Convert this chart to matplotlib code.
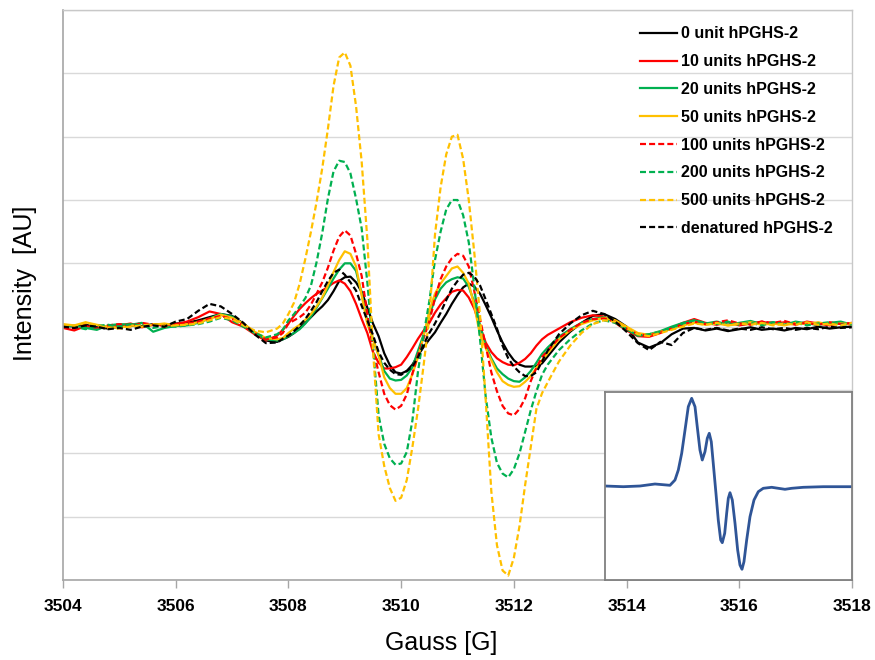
import matplotlib
matplotlib.use("Agg")
import matplotlib.pyplot as plt

plt.rcParams['font.family'] = ['Liberation Sans', 'DejaVu Sans']

# ---------------- data ----------------
gauss = [3504.0, 3504.2, 3504.4, 3504.6, 3504.8, 3505.0, 3505.2, 3505.4, 3505.6, 3505.8,
         3506.0, 3506.2, 3506.4, 3506.6, 3506.8, 3507.0, 3507.2, 3507.4, 3507.6, 3507.8,
         3507.9, 3508.0, 3508.1, 3508.2, 3508.3, 3508.4, 3508.5, 3508.6, 3508.7, 3508.8,
         3508.9, 3509.0, 3509.1, 3509.2, 3509.3, 3509.4, 3509.5, 3509.6, 3509.7, 3509.8,
         3509.9, 3510.0, 3510.1, 3510.2, 3510.3, 3510.4, 3510.5, 3510.6, 3510.7, 3510.8,
         3510.9, 3511.0, 3511.1, 3511.2, 3511.3, 3511.4, 3511.5, 3511.6, 3511.7, 3511.8,
         3511.9, 3512.0, 3512.1, 3512.2, 3512.3, 3512.4, 3512.5, 3512.6,
         3512.8, 3513.0, 3513.2, 3513.4, 3513.6, 3513.8, 3514.0, 3514.2, 3514.4, 3514.6,
         3514.8, 3515.0, 3515.2, 3515.4, 3515.6, 3515.8, 3516.0, 3516.2, 3516.4, 3516.6,
         3516.8, 3517.0, 3517.2, 3517.4, 3517.6, 3517.8, 3518.0]

unit_0 = [0.02, 0.0, 0.03, -0.01, -0.03, 0.0, 0.02, 0.01, 0.04, 0.03,
          0.05, 0.06, 0.1, 0.15, 0.2, 0.17, 0.05, -0.1, -0.22, -0.24,
          -0.2, -0.16, -0.1, -0.02, 0.06, 0.15, 0.24, 0.32, 0.42, 0.56,
          0.72, 0.78, 0.79, 0.7, 0.55, 0.3, 0.05, -0.15, -0.42, -0.61,
          -0.72, -0.74, -0.7, -0.6, -0.45, -0.32, -0.2, -0.09, 0.06, 0.2,
          0.36, 0.5, 0.62, 0.68, 0.63, 0.52, 0.34, 0.15, -0.06, -0.25,
          -0.41, -0.53, -0.6, -0.63, -0.63, -0.62, -0.58, -0.47,
          -0.25, -0.08, 0.06, 0.17, 0.2, 0.12, 0.0, -0.25, -0.33, -0.26,
          -0.12, -0.03, -0.02, -0.06, -0.03, -0.07, -0.04, -0.01, -0.05, -0.03,
          -0.06, -0.02, -0.04, 0.0, -0.03, -0.01, 0.0]

unit_10 = [-0.02, -0.06, 0.01, -0.03, 0.0, 0.02, 0.05, -0.01, 0.03, 0.02,
           0.04, 0.08, 0.15, 0.24, 0.2, 0.07, 0.0, -0.12, -0.22, -0.14,
           -0.05, 0.05, 0.17, 0.28, 0.37, 0.45, 0.52, 0.57, 0.63, 0.69,
           0.73, 0.68, 0.56, 0.36, 0.12, -0.1, -0.4, -0.57, -0.66, -0.66,
           -0.64, -0.6, -0.48, -0.34, -0.19, -0.06, 0.06, 0.22, 0.35, 0.45,
           0.55, 0.58, 0.57, 0.46, 0.28, 0.0, -0.25, -0.4, -0.5, -0.56,
           -0.6, -0.61, -0.57, -0.51, -0.42, -0.3, -0.2, -0.13,
           -0.03, 0.07, 0.14, 0.18, 0.16, 0.06, -0.06, -0.15, -0.16, -0.1,
           -0.02, 0.06, 0.12, 0.06, 0.03, 0.07, 0.02, 0.05, 0.08, 0.04,
           0.07, 0.03, 0.08, 0.05, 0.02, 0.06, 0.03]

unit_20 = [-0.01, 0.02, -0.02, -0.05, 0.02, 0.04, 0.03, 0.06, -0.08, -0.02,
           0.01, 0.02, 0.06, 0.13, 0.2, 0.16, 0.04, -0.1, -0.2, -0.22,
           -0.2, -0.15, -0.1, -0.04, 0.05, 0.16, 0.3, 0.45, 0.6, 0.76,
           0.9, 1.0, 1.0, 0.88, 0.52, 0.08, -0.2, -0.45, -0.7, -0.82,
           -0.85, -0.84, -0.77, -0.64, -0.38, -0.12, 0.18, 0.43, 0.6, 0.7,
           0.75, 0.78, 0.76, 0.63, 0.38, 0.02, -0.3, -0.5, -0.66, -0.75,
           -0.82, -0.86, -0.87, -0.8, -0.7, -0.57, -0.43, -0.33,
           -0.16, -0.04, 0.06, 0.12, 0.15, 0.08, -0.04, -0.14, -0.12, -0.07,
           0.0, 0.06, 0.1, 0.05, 0.08, 0.03, 0.06, 0.09, 0.04, 0.07,
           0.03, 0.08, 0.05, 0.03, 0.06, 0.08, 0.03]

unit_50 = [0.04, 0.02, 0.07, 0.03, 0.0, -0.02, 0.02, 0.0, 0.03, 0.05,
           0.02, 0.04, 0.07, 0.12, 0.19, 0.14, 0.05, -0.08, -0.18, -0.2,
           -0.18, -0.1, -0.03, 0.03, 0.11, 0.2, 0.32, 0.46, 0.65, 0.86,
           1.05, 1.19, 1.15, 0.95, 0.49, 0.04, -0.2, -0.45, -0.8, -0.97,
           -1.06, -1.06, -0.97, -0.75, -0.48, -0.15, 0.25, 0.52, 0.68, 0.8,
           0.92, 0.95, 0.85, 0.68, 0.32, -0.13, -0.34, -0.53, -0.72, -0.86,
           -0.92, -0.95, -0.94, -0.87, -0.78, -0.65, -0.53, -0.42,
           -0.2, -0.06, 0.04, 0.1, 0.14, 0.1, 0.0, -0.1, -0.13, -0.08,
           -0.04, 0.02, 0.06, 0.03, 0.05, 0.02, 0.04, 0.07, 0.03, 0.05,
           0.02, 0.06, 0.04, 0.07, 0.03, 0.05, 0.04]

unit_100 = [0.0, -0.03, 0.03, -0.02, 0.02, 0.04, 0.01, 0.06, 0.03, 0.0,
            0.03, 0.05, 0.08, 0.13, 0.17, 0.12, 0.02, -0.1, -0.2, -0.17,
            -0.1, 0.05, 0.1, 0.15, 0.22, 0.35, 0.52, 0.7, 0.93, 1.2,
            1.42, 1.52, 1.44, 1.15, 0.8, 0.2, -0.35, -0.72, -1.06, -1.24,
            -1.31, -1.25, -1.07, -0.74, -0.44, -0.18, 0.08, 0.45, 0.75, 0.95,
            1.08, 1.15, 1.12, 0.95, 0.55, 0.12, -0.3, -0.72, -1.02, -1.25,
            -1.37, -1.4, -1.3, -1.13, -0.86, -0.65, -0.48, -0.38,
            -0.18, -0.05, 0.06, 0.12, 0.13, 0.08, -0.03, -0.12, -0.14, -0.09,
            -0.03, 0.04, 0.08, 0.04, 0.07, 0.1, 0.05, 0.03, 0.08, 0.06,
            0.09, 0.04, 0.06, 0.03, 0.07, 0.04, 0.06]

unit_200 = [0.02, 0.0, -0.04, 0.01, 0.03, 0.0, 0.04, 0.02, -0.02, 0.01,
            0.0, 0.02, 0.04, 0.08, 0.14, 0.1, 0.0, -0.1, -0.17, -0.12,
            -0.05, 0.1, 0.2, 0.32, 0.45, 0.65, 1.02, 1.48, 2.02, 2.45,
            2.62, 2.6, 2.42, 2.02, 1.55, 0.7, -0.3, -1.4, -1.85, -2.08,
            -2.18, -2.16, -1.98, -1.48, -0.7, -0.12, 0.4, 1.05, 1.5, 1.85,
            2.0, 2.0, 1.76, 1.33, 0.62, -0.2, -1.1, -1.75, -2.15, -2.32,
            -2.38, -2.25, -2.0, -1.66, -1.32, -1.02, -0.76, -0.6,
            -0.37, -0.2, -0.06, 0.05, 0.1, 0.06, -0.04, -0.14, -0.12, -0.08,
            -0.02, 0.05, 0.1, 0.06, 0.04, 0.08, 0.03, 0.06, 0.02, 0.07,
            0.04, 0.06, 0.02, 0.05, 0.07, 0.03, 0.04]

unit_500 = [0.03, 0.01, 0.06, 0.02, -0.02, -0.03, 0.0, 0.02, 0.04, 0.01,
            0.02, 0.03, 0.05, 0.1, 0.15, 0.12, 0.02, -0.06, -0.09, -0.03,
            0.05, 0.2, 0.38, 0.68, 1.07, 1.5, 1.97, 2.5, 3.12, 3.8,
            4.25, 4.33, 4.12, 3.48, 2.6, 1.38, -0.36, -1.7, -2.2, -2.55,
            -2.75, -2.7, -2.42, -1.9, -1.3, -0.6, 0.15, 1.45, 2.2, 2.72,
            3.0, 3.03, 2.65, 2.0, 1.15, 0.18, -1.15, -2.6, -3.45, -3.85,
            -3.93, -3.65, -3.15, -2.5, -1.9, -1.3, -1.05, -0.88,
            -0.55, -0.3, -0.1, 0.04, 0.1, 0.08, -0.02, -0.12, -0.15, -0.1,
            -0.05, 0.0, 0.05, 0.03, 0.06, 0.02, 0.05, 0.03, 0.06, 0.02,
            0.05, 0.03, 0.07, 0.03, 0.05, 0.02, 0.06]

denatured = [0.0, -0.02, 0.02, 0.0, -0.04, -0.02, -0.05, 0.0, 0.02, 0.0,
             0.08, 0.12, 0.25, 0.36, 0.32, 0.2, 0.06, -0.12, -0.26, -0.25,
             -0.19, -0.14, -0.07, 0.02, 0.12, 0.25, 0.39, 0.56, 0.72, 0.85,
             0.9, 0.82, 0.7, 0.57, 0.33, 0.1, -0.13, -0.4, -0.57, -0.68,
             -0.75, -0.76, -0.7, -0.63, -0.48, -0.28, -0.1, 0.05, 0.22, 0.42,
             0.6, 0.72, 0.82, 0.85, 0.79, 0.65, 0.43, 0.2, -0.03, -0.3,
             -0.5, -0.63, -0.72, -0.78, -0.78, -0.72, -0.55, -0.38,
             -0.12, 0.05, 0.18, 0.25, 0.2, 0.08, -0.08, -0.26, -0.37, -0.24,
             -0.29, -0.1, -0.02, -0.05, -0.02, -0.06, -0.03, -0.05, -0.01, -0.04,
             -0.02, -0.05, -0.02, -0.04, 0.0, -0.02, -0.01]

labels = ["0 unit hPGHS-2", "10 units hPGHS-2", "20 units hPGHS-2", "50 units hPGHS-2",
          "100 units hPGHS-2", "200 units hPGHS-2", "500 units hPGHS-2", "denatured hPGHS-2"]

# inset spectrum (reference spectrum, arbitrary units)
inset_x = [3513.617, 3513.942, 3514.238, 3514.504, 3514.770, 3514.859, 3514.918, 3514.978,
           3515.037, 3515.095, 3515.155, 3515.214, 3515.254, 3515.302, 3515.343, 3515.391,
           3515.432, 3515.467, 3515.503, 3515.538, 3515.586, 3515.627, 3515.670, 3515.698,
           3515.741, 3515.776, 3515.805, 3515.835, 3515.876, 3515.924, 3515.971, 3516.012,
           3516.048, 3516.083, 3516.131, 3516.190, 3516.261, 3516.337, 3516.425, 3516.575,
           3516.692, 3516.811, 3516.929, 3517.135, 3517.490, 3518.0]
inset_y = [1, 0.3, 1, 3, 1.7, 7, 17, 33.7,
           57, 80.3, 88.7, 80.3, 60.3, 37, 27, 35.3,
           48.7, 53.7, 45.3, 23.7, -6.3, -33, -53, -55.7,
           -46.3, -26.3, -11.3, -5.7, -13, -36.3, -63, -78,
           -82.3, -74.7, -53, -29.7, -13, -4.7, -1.3, -0.3,
           -1.3, -2.3, -1.3, -0.3, 0.3, 0.3]

# ---------------- styling ----------------
series = [unit_0, unit_10, unit_20, unit_50, unit_100, unit_200, unit_500, denatured]
colors = ["#000000", "#FF0000", "#00B050", "#FFC000",
          "#FF0000", "#00B050", "#FFC000", "#000000"]
dashed = [False, False, False, False, True, True, True, True]

W, H = 875, 660
fig = plt.figure(figsize=(W / 100, H / 100), dpi=100)
ax = fig.add_axes([63 / W, 80 / H, 789 / W, 570 / H])

for y, lab, c, d in zip(series, labels, colors, dashed):
    if d:
        ax.plot(gauss, y, color=c, lw=1.6, linestyle=(0, (2.7, 1.4)), label=lab)
    else:
        ax.plot(gauss, y, color=c, lw=1.6, label=lab)

ax.set_xlim(3504, 3518)
ax.set_ylim(-4, 5)
ax.set_xticks(list(range(3504, 3519, 2)))
ax.set_yticks(list(range(-4, 6)))
ax.set_yticklabels([])
ax.tick_params(axis='y', length=0)
ax.tick_params(axis='x', direction='out', length=5.5, width=1, color='#A6A6A6', pad=8,
               labelsize=12.5)
for t in ax.get_xticklabels():
    t.set_fontweight('bold')
ax.grid(axis='y', color='#D9D9D9', lw=1)
ax.set_axisbelow(True)
for s in ['left', 'bottom']:
    ax.spines[s].set_color('#A6A6A6')
    ax.spines[s].set_linewidth(1.2)
for s in ['top', 'right']:
    ax.spines[s].set_color('#C8C8C8')
    ax.spines[s].set_linewidth(1.0)

fig.text(441 / W, 1 - 643 / H, "Gauss [G]", fontsize=18, ha='center', va='center')
fig.text(25 / W, 1 - 283 / H, "Intensity  [AU]", fontsize=18, ha='center', va='center',
         rotation=90)

leg = ax.legend(loc='upper left', bbox_to_anchor=(640 / W, 1 - 26.5 / H),
                bbox_transform=fig.transFigure, frameon=False, borderpad=0,
                borderaxespad=0, handlelength=2.3, handletextpad=0.25,
                labelspacing=0.8, prop={'weight': 'bold', 'size': 11.5})

# inset
axi = fig.add_axes([605 / W, 80 / H, 247 / W, 188 / H])
axi.plot(inset_x, inset_y, color='#2F5597', lw=2.0)
axi.set_xlim(inset_x[0], inset_x[-1])
axi.set_ylim(-93, 95)
axi.set_xticks([])
axi.set_yticks([])
for s in axi.spines.values():
    s.set_color('#808080')
    s.set_linewidth(1.3)

fig.savefig("out.png", dpi=100)
